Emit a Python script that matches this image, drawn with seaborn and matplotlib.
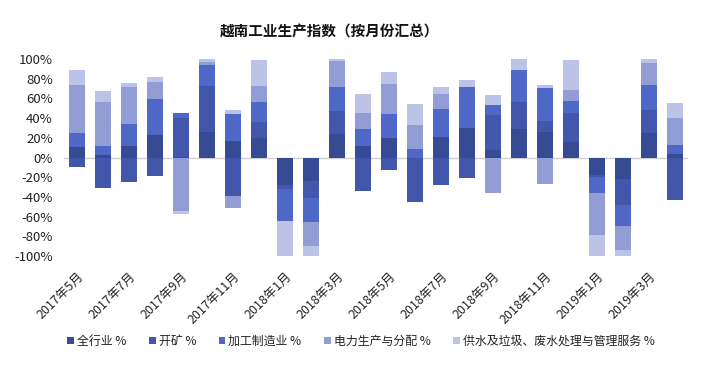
import numpy as np
import pandas as pd
import matplotlib
matplotlib.use("Agg")
import matplotlib.pyplot as plt
import seaborn as sns

months = ["2017年5月", "2017年6月", "2017年7月", "2017年8月", "2017年9月", "2017年10月",
          "2017年11月", "2017年12月", "2018年1月", "2018年2月", "2018年3月", "2018年4月",
          "2018年5月", "2018年6月", "2018年7月", "2018年8月", "2018年9月", "2018年10月",
          "2018年11月", "2018年12月", "2019年1月", "2019年2月", "2019年3月", "2019年4月"]

series_names = ["全行业 %", "开矿 %", "加工制造业 %", "电力生产与分配 %", "供水及垃圾、废水处理与管理服务 %"]

total = [11, 3, 12, 22.4, 1, 25.5, 16.7, 20, -27.5, -23.5, 24, 11.6,
         20, 0, 20.4, 29.6, 8, 28.6, 25.5, 15.6, -17.3, -22, 24.8, 4]
mining = [-10, -31, -25, -19, 39, 47, -39, 16, -4.4, -18, 23, -34,
          -13, -45.6, -28, -21, 34.7, 27.5, 11.6, 29.6, -2.4, -26.5, 23, -43.5]
manufacturing = [14, 9, 22, 37, 5, 21, 27, 20, -33, -24, 25, 17,
                 24.5, 9, 28.6, 42, 11, 32.7, 33.7, 12, -16, -21.4, 25.8, 9]
power = [49, 44, 38, 17, -54, 3, -12, 17, 0, -24.5, 25.5, 17,
         30.6, 23.5, 15.6, 0, -36, 0, -27, 11, -42.5, -23.8, 22.4, 27.5]
water = [15, 12, 4, 5, -3, 3, 5, 26, -35, -11, 3, 19,
         12, 21.4, 6.8, 7, 10, 11, 3, 31, -22.4, -6.8, 3.7, 15.3]

colors = ["#374A94", "#4257AC", "#4F68C8", "#929DD6", "#BCC3E6"]

sns.set_theme(style="white")
plt.rcParams['font.family'] = ['Noto Sans CJK SC', 'DejaVu Sans']
plt.rcParams['axes.unicode_minus'] = False

fig = plt.figure(figsize=(7.21, 3.65), dpi=100)
ax = fig.add_axes([64/721, 1-256/365, (688-64)/721, (256-59)/365])

all_series = [total, mining, manufacturing, power, water]
pos_base = np.zeros(len(months))
neg_base = np.zeros(len(months))
for name, vals, c in zip(series_names, all_series, colors):
    v = np.array(vals, dtype=float) / 100.0
    bottoms = np.where(v >= 0, pos_base, neg_base)
    df = pd.DataFrame({"month": months, "value": v})
    sns.barplot(data=df, x="month", y="value", order=months, bottom=bottoms,
                color=c, saturation=1, width=0.65, errorbar=None, ax=ax,
                label=name, linewidth=0)
    pos_base = pos_base + np.where(v >= 0, v, 0)
    neg_base = neg_base + np.where(v < 0, v, 0)

ax.axhline(0, color="#D0D0D0", linewidth=1, zorder=0)
ax.set_xlim(-0.5, 23.5)
ax.set_ylim(-1.0, 1.0)
yt = np.arange(-1.0, 1.01, 0.2)
ax.set_yticks(yt)
ax.set_yticklabels([f"{int(round(t*100))}%" for t in yt], fontsize=9.5, color="#222222")
ax.set_xticks(range(0, 24, 2))
ax.set_xticklabels(months[::2], rotation=45, ha="right", rotation_mode="anchor",
                   fontsize=9, color="#222222")
ax.tick_params(axis="y", length=0, pad=8)
ax.tick_params(axis="x", length=0, pad=10)
ax.set_xlabel("")
ax.set_ylabel("")
for s in ax.spines.values():
    s.set_visible(False)
ax.grid(False)

fig.text(330/721, 1-31/365, "越南工业生产指数（按月份汇总）", ha="center", va="center",
         fontsize=10.5, fontweight="bold", color="#111111")

handles, labels = ax.get_legend_handles_labels()
fig.legend(handles, labels, loc="center", bbox_to_anchor=(361/721, 1-341/365), ncol=5,
           frameon=False, fontsize=8.6, handlelength=0.55, handleheight=0.55,
           handletextpad=0.25, columnspacing=1.9, labelcolor="#222222")
if ax.get_legend() is not None:
    ax.get_legend().remove()

fig.savefig("out.png", dpi=100)
